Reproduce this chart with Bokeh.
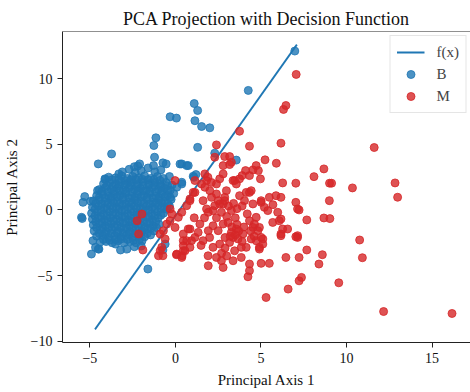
from bokeh.plotting import figure
from bokeh.models import ColumnDataSource, Range1d, FixedTicker, Span
from bokeh.embed import file_html
from bokeh.resources import INLINE

# ---- data ----
line_x = [-4.7, 7.1]
line_y = [-9.1, 12.6]

b_outliers = [
    (6.98, 12.11), (4.26, 9.11), (1.10, 8.11), (1.30, 7.58), (-0.31, 7.10), (0.06, 7.0),
    (1.14, 6.8), (1.53, 6.36), (2.01, 6.26), (-1.14, 5.50), (-1.26, 4.91), (1.30, 4.77),
    (-3.73, 4.27), (-4.51, 3.51), (-1.22, 4.02), (2.30, 4.33), (3.56, 3.80), (-0.73, 3.59),
    (-0.54, 3.51), (0.37, 3.51), (0.66, 3.38), (-1.28, 3.38), (-2.09, 3.51), (-2.4, 3.3),
    (-2.2, 3.35), (-4.10, 2.32), (-3.31, 2.75), (-4.12, 2.37), (-4.55, 1.48), (-5.30, 1.02),
    (-5.40, 0.58), (-4.95, 0.66), (-5.49, -0.56), (-5.45, -0.65), (-4.91, -3.36), (-4.82, -2.34),
    (-4.47, -2.98), (-1.61, -4.50), (-0.73, -3.05), (1.04, 2.57), (1.2, 2.7), (0.37, 2.11),
    (0.75, 3.38), (1.08, 2.49), (0.27, 3.5), (0.08, 1.73), (0.37, 1.98), (-0.6, -2.6),
]
b_core = [
    (-3.1, 2.9), (-2.7, 3.1), (-2.35, 2.85), (-2.0, 3.0), (-1.6, 3.2), (-1.2, 2.9), (-0.85, 3.05),
    (-3.9, 2.5), (-3.5, 2.45), (-3.15, 2.6), (-2.8, 2.4), (-2.5, 2.55), (-2.15, 2.45), (-1.8, 2.6),
    (-1.45, 2.4), (-1.05, 2.55), (-0.7, 2.4), (-0.35, 2.55),
    (-4.2, 2.0), (-3.85, 2.1), (-3.5, 1.95), (-3.2, 2.15), (-2.85, 2.0), (-2.55, 2.1), (-2.2, 1.95),
    (-1.9, 2.15), (-1.55, 2.0), (-1.2, 2.1), (-0.9, 1.95), (-0.55, 2.1), (-0.2, 1.9),
    (-4.45, 1.55), (-4.1, 1.7), (-3.75, 1.55), (-3.4, 1.65), (-3.05, 1.5), (-2.7, 1.7), (-2.4, 1.55),
    (-2.05, 1.65), (-1.7, 1.5), (-1.35, 1.7), (-1.0, 1.55), (-0.65, 1.65), (-0.3, 1.5),
    (-4.6, 1.1), (-4.25, 1.2), (-3.9, 1.05), (-3.55, 1.2), (-3.25, 1.1), (-2.9, 1.25), (-2.55, 1.05),
    (-2.2, 1.2), (-1.85, 1.1), (-1.5, 1.25), (-1.15, 1.05), (-0.8, 1.2), (-0.45, 1.1), (-0.1, 1.25),
    (-4.8, 0.7), (-4.45, 0.75), (-4.1, 0.6), (-3.75, 0.75), (-3.4, 0.65), (-3.05, 0.8), (-2.7, 0.6),
    (-2.35, 0.75), (-2.0, 0.65), (-1.65, 0.8), (-1.3, 0.6), (-0.95, 0.75), (-0.6, 0.65), (-0.25, 0.8),
    (-4.85, 0.2), (-4.5, 0.3), (-4.15, 0.15), (-3.8, 0.3), (-3.45, 0.2), (-3.1, 0.35), (-2.75, 0.2),
    (-2.4, 0.3), (-2.05, 0.15), (-1.7, 0.3), (-1.35, 0.2), (-1.0, 0.35), (-0.65, 0.2), (-0.35, 0.3),
    (-4.9, -0.25), (-4.55, -0.15), (-4.2, -0.3), (-3.85, -0.15), (-3.5, -0.25), (-3.15, -0.1),
    (-2.8, -0.3), (-2.45, -0.15), (-2.1, -0.25), (-1.75, -0.1), (-1.4, -0.3), (-1.05, -0.15), (-0.7, -0.25),
    (-4.85, -0.7), (-4.5, -0.6), (-4.15, -0.75), (-3.8, -0.6), (-3.45, -0.7), (-3.1, -0.55),
    (-2.75, -0.75), (-2.4, -0.6), (-2.05, -0.7), (-1.7, -0.55), (-1.35, -0.75), (-1.0, -0.6),
    (-4.8, -1.15), (-4.45, -1.05), (-4.1, -1.2), (-3.75, -1.05), (-3.4, -1.15), (-3.05, -1.0),
    (-2.7, -1.2), (-2.35, -1.05), (-2.0, -1.15), (-1.65, -1.0), (-1.3, -1.2), (-0.95, -1.1),
    (-4.75, -1.6), (-4.4, -1.5), (-4.05, -1.65), (-3.7, -1.5), (-3.35, -1.6), (-3.0, -1.45),
    (-2.65, -1.65), (-2.3, -1.5), (-1.95, -1.6), (-1.6, -1.45), (-1.25, -1.6),
    (-4.6, -2.0), (-4.25, -1.95), (-3.9, -2.1), (-3.55, -1.95), (-3.2, -2.05), (-2.85, -1.9),
    (-2.5, -2.1), (-2.15, -1.95), (-1.8, -2.05), (-1.45, -1.9),
    (-4.4, -2.45), (-4.05, -2.4), (-3.7, -2.5), (-3.35, -2.35), (-3.0, -2.5), (-2.65, -2.4),
    (-2.3, -2.5), (-1.95, -2.35),
    (-4.67, -2.85), (-4.51, -2.98), (-3.5, -2.6), (-3.21, -3.05), (-2.83, -2.98), (-2.4, -2.8), (-2.0, -2.75),
]
b_core_fill = [
    (-3.7, 2.3), (-3.3, 2.3), (-2.95, 2.25), (-2.6, 2.3), (-2.3, 2.3), (-1.95, 2.35), (-1.6, 2.3),
    (-1.25, 2.3), (-0.9, 2.25),
    (-4.0, 1.85), (-3.65, 1.8), (-3.3, 1.85), (-2.95, 1.9), (-2.6, 1.85), (-2.25, 1.8), (-1.9, 1.85),
    (-1.55, 1.9), (-1.2, 1.85), (-0.85, 1.8), (-0.45, 1.85),
    (-4.3, 1.4), (-3.95, 1.35), (-3.6, 1.4), (-3.25, 1.45), (-2.9, 1.4), (-2.55, 1.35), (-2.2, 1.4),
    (-1.85, 1.45), (-1.5, 1.4), (-1.15, 1.35), (-0.8, 1.4), (-0.45, 1.45),
    (-4.45, 0.95), (-4.1, 0.9), (-3.75, 0.95), (-3.4, 1.0), (-3.05, 0.95), (-2.7, 0.9), (-2.35, 0.95),
    (-2.0, 1.0), (-1.65, 0.95), (-1.3, 0.9), (-0.95, 0.95), (-0.6, 1.0), (-0.3, 0.95),
    (-4.65, 0.5), (-4.3, 0.45), (-3.95, 0.5), (-3.6, 0.55), (-3.25, 0.5), (-2.9, 0.45), (-2.55, 0.5),
    (-2.2, 0.55), (-1.85, 0.5), (-1.5, 0.45), (-1.15, 0.5), (-0.8, 0.55), (-0.45, 0.5),
    (-4.7, 0.05), (-4.35, 0.0), (-4.0, 0.05), (-3.65, 0.1), (-3.3, 0.05), (-2.95, 0.0), (-2.6, 0.05),
    (-2.25, 0.1), (-1.9, 0.05), (-1.55, 0.0), (-1.2, 0.05), (-0.85, 0.1), (-0.5, 0.05),
    (-4.7, -0.45), (-4.35, -0.5), (-4.0, -0.45), (-3.65, -0.4), (-3.3, -0.45), (-2.95, -0.5),
    (-2.6, -0.45), (-2.25, -0.4), (-1.9, -0.45), (-1.55, -0.5), (-1.2, -0.45), (-0.85, -0.4),
    (-4.65, -0.9), (-4.3, -0.95), (-3.95, -0.9), (-3.6, -0.85), (-3.25, -0.9), (-2.9, -0.95),
    (-2.55, -0.9), (-2.2, -0.85), (-1.85, -0.9), (-1.5, -0.95), (-1.15, -0.9),
    (-4.6, -1.35), (-4.25, -1.4), (-3.9, -1.35), (-3.55, -1.3), (-3.2, -1.35), (-2.85, -1.4),
    (-2.5, -1.35), (-2.15, -1.3), (-1.8, -1.35), (-1.45, -1.4), (-1.1, -1.35),
    (-4.45, -1.8), (-4.1, -1.85), (-3.75, -1.8), (-3.4, -1.75), (-3.05, -1.8), (-2.7, -1.85),
    (-2.35, -1.8), (-2.0, -1.75), (-1.65, -1.8),
    (-4.2, -2.25), (-3.85, -2.3), (-3.5, -2.25), (-3.15, -2.2), (-2.8, -2.25), (-2.45, -2.3), (-2.1, -2.25),
]

m_points = [
    (7.06, 10.33), (6.32, 7.66), (6.46, 7.96), (3.75, 6.0), (2.40, 4.96), (4.33, 4.86), (6.17, 5.09),
    (11.62, 4.76),
    (2.3, 4.02), (2.88, 4.07), (3.17, 4.07), (3.27, 3.63), (2.79, 3.38), (3.17, 3.46), (5.24, 3.82),
    (5.9, 3.56), (4.72, 3.38), (4.85, 3.0), (4.53, 3.05), (4.1, 3.0), (3.9, 2.62), (4.97, 2.37),
    (4.33, 2.62), (8.68, 3.13), (8.1, 2.54), (9.01, 2.04), (9.13, 2.04), (10.35, 1.68), (12.84, 2.06),
    (12.99, 0.97), (7.04, 2.04), (6.27, 2.06),
    (-0.02, 2.24), (1.82, 2.24), (1.53, 1.98), (1.14, 1.34), (2.01, 1.47), (2.4, 1.22), (1.62, 0.71),
    (0.85, 0.71), (1.82, 0.08), (2.2, -0.05), (2.59, 0.46), (2.88, 0.71), (2.98, 1.47), (3.37, 2.24),
    (1.9, 2.49), (1.72, 1.73), (2.4, 1.98), (2.1, 2.1), (2.59, 2.37), (2.79, 2.75), (3.46, 2.24),
    (3.75, 2.37), (3.56, 1.98), (1.72, 2.75),
    (2.11, 0.96), (2.5, 0.71), (2.88, 0.96), (2.79, 0.46), (2.3, 0.33), (1.92, -0.18), (2.69, -0.18),
    (3.27, -0.05), (3.75, 1.09), (4.14, 1.34), (4.43, 1.47), (4.04, 0.71), (4.53, 0.46), (5.01, 0.71),
    (5.49, 0.96), (5.88, 1.09), (6.17, 0.96), (5.4, -0.05), (5.98, -0.18), (5.69, -0.95), (6.17, -0.69),
    (6.56, -1.45), (6.17, -1.96), (7.04, 0.58), (7.14, 0.08), (7.68, -0.76), (7.04, -2.04), (4.33, 1.34),
    (5.01, 0.58), (6.07, -0.82), (6.27, -1.45), (7.23, 0.0), (7.14, -1.96), (4.91, -1.33), (4.72, -0.56),
    (4.53, -1.33), (4.33, -0.82), (5.11, -2.21), (4.91, -2.85), (4.72, -2.34), (6.17, -1.83),
    (4.14, -2.85), (9.0, 0.71), (8.68, -0.61), (9.03, -0.66), (3.4, 0.5), (3.6, 0.1), (3.1, 0.3),
    (3.9, 0.3), (4.2, -0.3), (3.5, -0.6), (3.0, -0.5), (5.2, 0.2), (5.7, 0.4),
    (-0.31, 0.08), (-0.21, -0.3), (0.17, -0.56), (0.37, -0.18), (0.66, 0.33), (0.85, 0.84), (1.04, 1.34),
    (1.14, 2.24), (-0.7, -1.58), (-0.5, -1.07), (-0.89, -3.11), (-0.99, -3.49), (0.08, -3.36),
    (0.46, -3.11), (0.37, -3.62), (-0.02, -1.33), (0.46, -1.83), (0.85, -1.45), (0.66, -2.34),
    (0.85, -2.85), (-0.73, -3.49), (0.06, -3.41), (0.39, -3.49), (0.46, -2.72),
    (-2.24, -0.82), (-1.96, -0.31), (-2.15, -1.83), (-1.9, -3.05), (-0.89, -1.83), (-0.6, -2.21),
    (-0.8, -2.85), (-0.31, -0.82),
    (0.75, -1.45), (1.14, -2.09), (1.43, -1.07), (1.33, -1.71), (1.62, -2.34), (1.92, -1.58),
    (2.2, -2.85), (2.5, -1.58), (2.79, -1.07), (3.08, -0.95), (3.27, -1.71), (3.37, -2.09),
    (3.17, -2.47), (3.56, -1.45), (3.66, -2.21), (3.95, -1.83), (4.43, -2.21), (4.62, -1.07),
    (4.82, -1.58), (5.01, -2.09), (5.11, -2.6), (4.91, -2.98), (0.46, -2.34), (0.94, -2.34),
    (0.56, -3.11), (2.59, -2.6), (3.46, -3.11), (3.85, -2.85), (3.3, -1.3), (3.5, -1.9), (3.7, -1.6),
    (3.2, -2.0), (3.9, -2.4), (2.2, -1.2), (2.0, -2.1), (1.7, -0.6), (2.4, -0.6), (1.1, -0.6),
    (2.9, -2.1), (3.6, -1.1), (4.0, -1.3), (4.4, -1.6), (4.6, -2.0), (1.5, -2.7), (2.7, -3.3), (2.9, -2.9),
    (1.92, -4.25), (2.4, -3.62), (2.69, -3.87), (2.79, -4.38), (3.37, -3.87), (3.85, -3.62),
    (4.33, -4.12), (4.33, -4.63), (4.24, -5.09), (5.01, -4.07), (5.49, -4.07), (6.46, -3.62),
    (7.23, -3.62), (7.68, -3.05), (8.59, -3.41), (8.39, -4.12), (7.23, -5.4), (7.37, -5.14),
    (6.59, -6.03), (5.3, -6.67), (1.91, -3.49), (10.77, -2.29), (10.93, -3.64), (9.55, -5.55),
    (12.17, -7.74), (16.17, -7.89), (7.14, -2.09), (3.0, -3.5),
]

x_ticks = [-5, 0, 5, 10, 15]
y_ticks = [-10, -5, 0, 5, 10]

b_all = b_outliers + b_core + b_core_fill
src_b = ColumnDataSource(dict(x=[p[0] for p in b_all], y=[p[1] for p in b_all]))
src_m = ColumnDataSource(dict(x=[p[0] for p in m_points], y=[p[1] for p in m_points]))

FONT = "Liberation Serif"
Y_TOP = 13.6

p = figure(width=470, height=392, output_backend="svg", toolbar_location=None,
           x_range=Range1d(-6.6, 17.25), y_range=Range1d(-10.1, Y_TOP),
           min_border_left=60, min_border_right=0, min_border_top=31, min_border_bottom=50,
           title="PCA Projection with Decision Function")

p.line(line_x, line_y, line_color="#1f77b4", line_width=1.8, legend_label="f(x)")
p.scatter("x", "y", source=src_b, size=8, fill_color="#1f77b4", line_color="#1f77b4",
          fill_alpha=0.8, line_alpha=0.8, legend_label="B")
p.scatter("x", "y", source=src_m, size=8, fill_color="#d62728", line_color="#d62728",
          fill_alpha=0.8, line_alpha=0.8, legend_label="M")

p.title.align = "center"
p.title.text_font = FONT
p.title.text_font_size = "18px"
p.title.text_font_style = "normal"
p.title.text_color = "#111111"
p.title.standoff = 6

p.outline_line_color = None
p.add_layout(Span(location=Y_TOP, dimension="width", line_color="#222222", line_width=1))
p.grid.visible = False

p.xaxis.ticker = FixedTicker(ticks=x_ticks)
p.yaxis.ticker = FixedTicker(ticks=y_ticks)
p.xaxis.major_label_overrides = {t: str(t).replace("-", "\u2212") for t in x_ticks}
p.yaxis.major_label_overrides = {t: str(t).replace("-", "\u2212") for t in y_ticks}
for ax in (p.xaxis[0], p.yaxis[0]):
    ax.minor_tick_line_color = None
    ax.major_tick_in = 0
    ax.major_tick_out = 5
    ax.axis_line_color = "#222222"
    ax.major_tick_line_color = "#222222"
    ax.major_label_text_font = FONT
    ax.major_label_text_font_size = "14px"
    ax.major_label_text_color = "#111111"
    ax.axis_label_text_font = FONT
    ax.axis_label_text_font_size = "15px"
    ax.axis_label_text_font_style = "normal"
    ax.axis_label_text_color = "#111111"
p.xaxis.axis_label = "Principal Axis 1"
p.yaxis.axis_label = "Principal Axis 2"
p.xaxis.axis_label_standoff = 6
p.yaxis.axis_label_standoff = 8

lg = p.legend[0]
lg.location = "top_right"
lg.margin = 4
lg.padding = 6
lg.spacing = 2
lg.glyph_width = 28
lg.glyph_height = 20
lg.label_standoff = 12
lg.label_text_font = FONT
lg.label_text_font_size = "15px"
lg.border_line_color = "#cccccc"
lg.border_line_width = 1
lg.background_fill_alpha = 0.85

open("out.html", "w").write(file_html(p, INLINE))
